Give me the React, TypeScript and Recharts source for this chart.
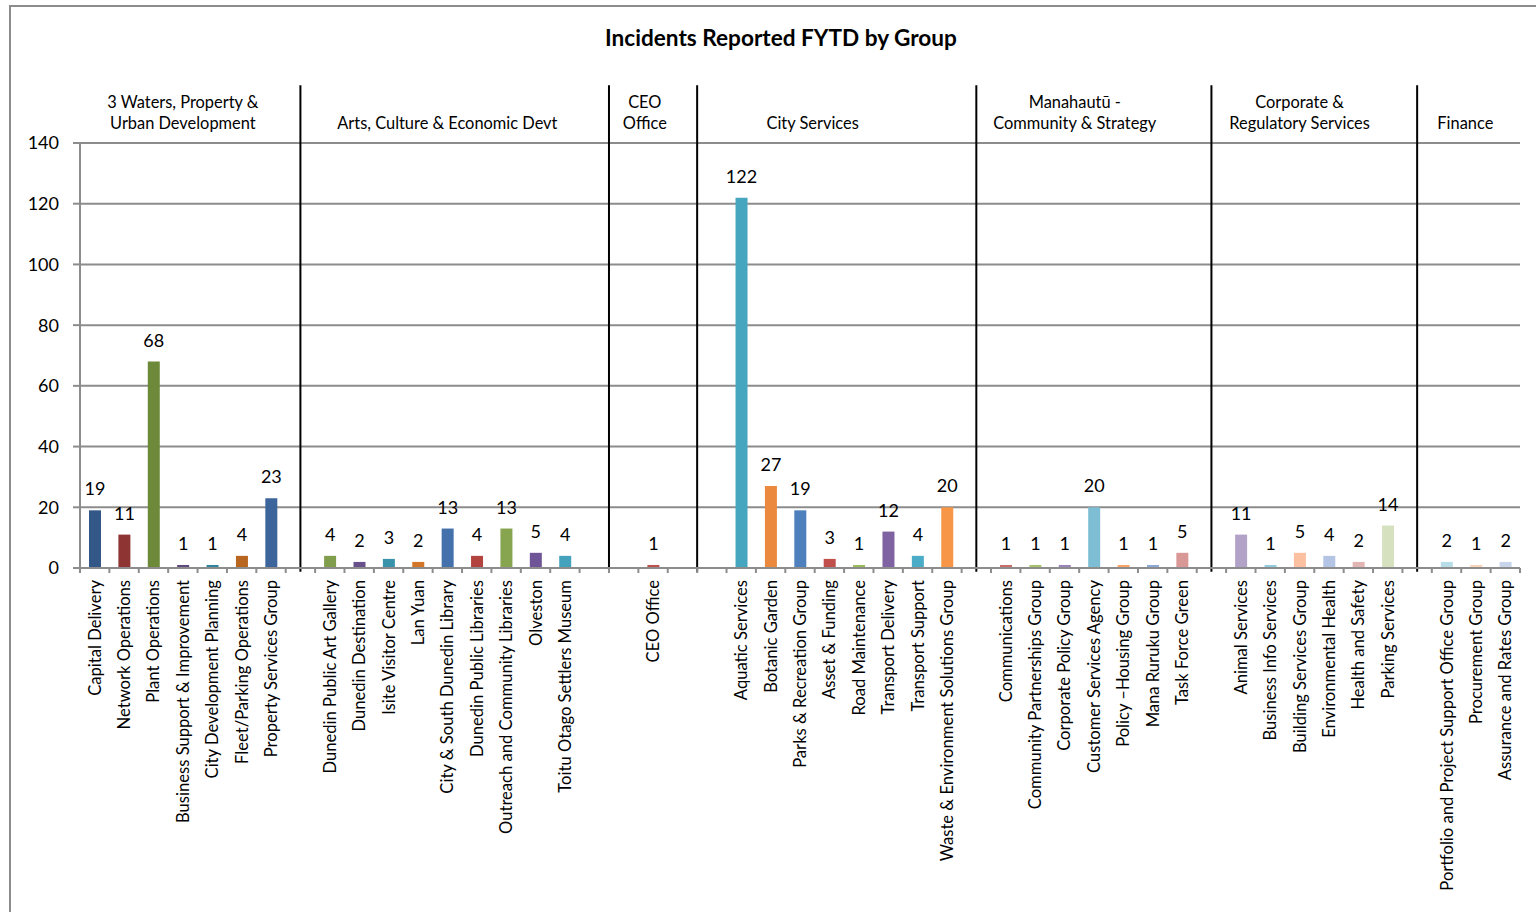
import React from 'react';
import {
  BarChart,
  Bar,
  XAxis,
  YAxis,
  CartesianGrid,
  Cell,
  LabelList,
  ReferenceLine,
  ReferenceDot,
} from 'recharts';

// Business units along the axis; empty strings are spacer slots between groups.
const categories: string[] = [
  'Capital Delivery',
  'Network Operations',
  'Plant Operations',
  'Business Support & Improvement',
  'City Development Planning',
  'Fleet/Parking Operations',
  'Property Services Group',
  '',
  'Dunedin Public Art Gallery',
  'Dunedin Destination',
  'Isite Visitor Centre',
  'Lan Yuan',
  'City & South Dunedin Library',
  'Dunedin Public Libraries',
  'Outreach and Community Libraries',
  'Olveston',
  'Toitu Otago Settlers Museum',
  '',
  '',
  'CEO Office',
  '',
  '',
  'Aquatic Services',
  'Botanic Garden',
  'Parks & Recreation Group',
  'Asset & Funding',
  'Road Maintenance',
  'Transport Delivery',
  'Transport Support',
  'Waste & Environment Solutions Group',
  '',
  'Communications',
  'Community Partnerships Group',
  'Corporate Policy Group',
  'Customer Services Agency',
  'Policy \u2013Housing Group',
  'Mana Ruruku Group',
  'Task Force Green',
  '',
  'Animal Services',
  'Business Info Services',
  'Building Services Group',
  'Environmental Health',
  'Health and Safety',
  'Parking Services',
  '',
  'Portfolio and Project Support Office Group',
  'Procurement Group',
  'Assurance and Rates Group',
];

// Incidents reported financial year to date (null for spacer slots).
const incidents: (number | null)[] = [
  19, 11, 68, 1, 1, 4, 23,
  null,
  4, 2, 3, 2, 13, 4, 13, 5, 4,
  null, null,
  1,
  null, null,
  122, 27, 19, 3, 1, 12, 4, 20,
  null,
  1, 1, 1, 20, 1, 1, 5,
  null,
  11, 1, 5, 4, 2, 14,
  null,
  2, 1, 2,
];

// Group headings and the slot each one is centred over.
const groupNames: string[][] = [
  ['3 Waters, Property &', 'Urban Development'],
  ['Arts, Culture & Economic Devt'],
  ['CEO', 'Office'],
  ['City Services'],
  ['Manahaut\u016b -', 'Community & Strategy'],
  ['Corporate &', 'Regulatory Services'],
  ['Finance'],
];
const groupCentres: number[] = [3, 12, 18.72, 24.43, 33.35, 41, 46.64];

// Vertical dividers between groups, in slot units.
const groupDividers: number[] = [7, 17.5, 20.5, 30, 38, 45];

const yTicks: number[] = [0, 20, 40, 60, 80, 100, 120, 140];

// One fill per slot.
const barColours: string[] = [
  '#335887', '#8E3433', '#6C8A39', '#5F4A7E', '#31849B', '#B8661F', '#3C659C',
  '',
  '#809E4C', '#67508C', '#3994AB', '#D47627', '#4470AB', '#B3433F', '#86A54E', '#6F5597', '#45A2BC',
  '', '',
  '#C0504D',
  '', '',
  '#47A6BF', '#EB8A3E', '#4E80BE', '#C14F4C', '#9ABB59', '#7F62A1', '#4AACC6', '#F79646',
  '',
  '#CB6E6B', '#A6C36A', '#9A83B8', '#7EBED4', '#F9A467', '#8CA8D4', '#D99795',
  '',
  '#B2A2C8', '#93CCDD', '#FAC09F', '#B4C4E4', '#E2B5B4', '#D6E2BF',
  '',
  '#B7DDE8', '#FBD3B8', '#C8D4EA',
];

const FONT = 'Lato, "Open Sans", sans-serif';
const GRID = '#8c8c8c';

const rows = categories
  .map((name, i) => ({ pos: i, name, value: incidents[i], colour: barColours[i] }))
  .filter((r) => r.value !== null);

// Axis ticks: slot centres carry the names, slot edges carry the short tick marks.
const axisTicks: number[] = [];
categories.forEach((_, i) => {
  axisTicks.push(i - 0.5, i);
});
axisTicks.push(categories.length - 0.5);

const CategoryTick = (props: any) => {
  const { x, y, payload } = props;
  const v: number = payload.value;
  if (!Number.isInteger(v)) {
    return <line x1={x} y1={y} x2={x} y2={y + 5} stroke={GRID} strokeWidth={2} />;
  }
  const name = categories[v];
  if (!name) return null;
  const ty = y + 12;
  return (
    <text
      x={x}
      y={ty}
      transform={`rotate(-90 ${x} ${ty})`}
      textAnchor="end"
      dominantBaseline="central"
      fontSize={16.6}
      fontFamily={FONT}
      fill="#000"
    >
      {name}
    </text>
  );
};

const GroupHeading = (props: any) => {
  const { viewBox, lines } = props;
  const cx = viewBox.x + (viewBox.width || 0) / 2;
  const cy = viewBox.y + (viewBox.height || 0) / 2;
  const first = lines.length === 2 ? cy - 42 : cy - 21;
  return (
    <text textAnchor="middle" fontSize={16.4} fontFamily={FONT} fill="#000">
      {lines.map((l: string, i: number) => (
        <tspan key={l} x={cx} y={first + i * 21.5} dominantBaseline="central">
          {l}
        </tspan>
      ))}
    </text>
  );
};

export default function App() {
  return (
    <div
      style={{
        position: 'fixed',
        left: 0,
        top: 0,
        width: 1536,
        height: 912,
        overflow: 'hidden',
        background: '#fff',
      }}
    >
      <div
        style={{
          position: 'absolute',
          left: 9,
          top: 5,
          width: 1542,
          height: 1000,
          border: `2px solid ${GRID}`,
          boxSizing: 'border-box',
        }}
      />
      <div
        style={{
          position: 'absolute',
          left: 10,
          width: 1542,
          top: 25,
          height: 26,
          lineHeight: '26px',
          textAlign: 'center',
          fontFamily: FONT,
          fontWeight: 700,
          fontSize: 22.6,
          color: '#000',
        }}
      >
        Incidents Reported FYTD by Group
      </div>
      <div style={{ position: 'absolute', left: 0, top: 0 }}>
        <BarChart
          width={1536}
          height={912}
          data={rows}
          margin={{ top: 143, right: 16, bottom: 0, left: 0 }}
        >
          <CartesianGrid vertical={false} stroke={GRID} strokeWidth={2} />
          <XAxis
            type="number"
            dataKey="pos"
            domain={[-0.5, categories.length - 0.5]}
            ticks={axisTicks}
            interval={0}
            allowDataOverflow
            height={344}
            tickLine={false}
            tickSize={0}
            tickMargin={0}
            axisLine={{ stroke: GRID, strokeWidth: 2 }}
            tick={<CategoryTick />}
          />
          <YAxis
            domain={[0, 140]}
            ticks={yTicks}
            interval={0}
            allowDataOverflow
            width={80}
            tickSize={7}
            tickMargin={14}
            axisLine={{ stroke: GRID, strokeWidth: 2 }}
            tickLine={{ stroke: GRID, strokeWidth: 2 }}
            tick={{ fill: '#000', fontSize: 18, fontFamily: FONT }}
          />
          <Bar dataKey="value" barSize={12} isAnimationActive={false}>
            {rows.map((r) => (
              <Cell key={r.pos} fill={r.colour} />
            ))}
            <LabelList
              dataKey="value"
              position="top"
              offset={15}
              fill="#000"
              fontSize={18}
              fontFamily={FONT}
            />
          </Bar>
          {groupDividers.map((d) => (
            <ReferenceLine
              key={d}
              segment={[
                { x: d, y: -1.2 },
                { x: d, y: 159 },
              ]}
              stroke="#000"
              strokeWidth={2}
              ifOverflow="visible"
            />
          ))}
          {groupNames.map((lines, i) => (
            <ReferenceDot
              key={lines[0]}
              x={groupCentres[i]}
              y={140}
              r={0}
              fill="none"
              stroke="none"
              ifOverflow="visible"
              label={<GroupHeading lines={lines} />}
            />
          ))}
        </BarChart>
      </div>
    </div>
  );
}
